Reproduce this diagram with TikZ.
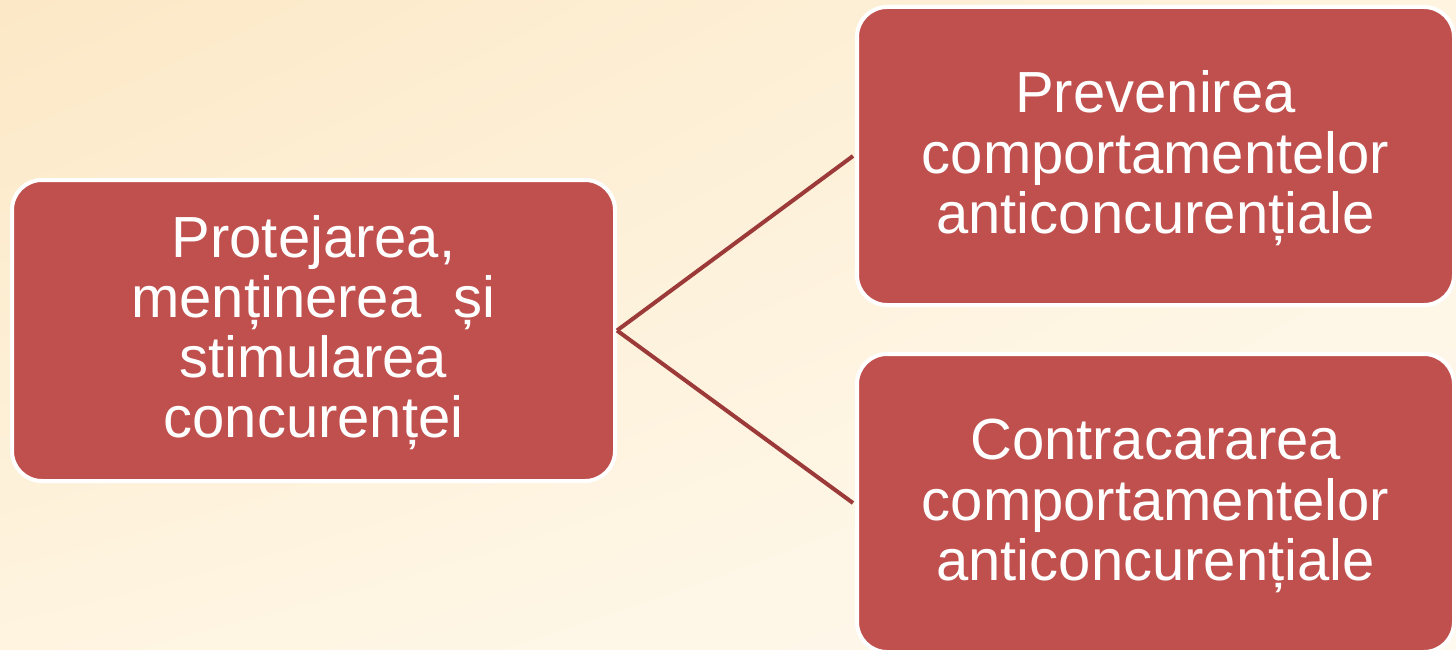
\documentclass[tikz,border=0pt]{standalone}
\usepackage{fontspec}
\setmainfont{Liberation Sans}
\usetikzlibrary{shadings}
\definecolor{boxred}{RGB}{192,80,77}
\definecolor{linkred}{RGB}{155,58,56}
\definecolor{bgA}{RGB}{252,232,198}
\definecolor{bgB}{RGB}{254,244,224}
\definecolor{bgC}{RGB}{254,250,240}
\newcommand{\boxlines}[1]{\raisebox{-5pt}[\height][\depth]{\begin{tabular}{@{}c@{}}#1\end{tabular}}}
\tikzset{
  box/.style={draw=white, line width=4pt, fill=boxred, rounded corners=30pt,
    text=white, font=\fontsize{58}{60}\selectfont, inner sep=0pt},
  link/.style={draw=linkred, line width=4pt}
}
\begin{document}
\begin{tikzpicture}[x=1pt,y=-1pt]
\useasboundingbox (0,0) rectangle (1456,650);
\clip (0,0) rectangle (1456,650);
\shade[upper left=bgA, upper right=bgB, lower left=bgB, lower right=bgC] (0,0) rectangle (1456,650);
\node[box, minimum width=603pt, minimum height=301pt] (L) at (313.5,330.5)
  {\boxlines{Protejarea,\\menținerea~ și\\stimularea\\concurenței}};
\node[box, minimum width=597pt, minimum height=298pt] (TR) at (1155.5,156)
  {\boxlines{Prevenirea\\comportamentelor\\anticoncurențiale}};
\node[box, minimum width=597pt, minimum height=298pt] (BR) at (1155.5,503)
  {\boxlines{Contracararea\\comportamentelor\\anticoncurențiale}};
\draw[link] (L.east) -- ([xshift=-2pt]TR.west);
\draw[link] (L.east) -- ([xshift=-2pt]BR.west);
\end{tikzpicture}
\end{document}
